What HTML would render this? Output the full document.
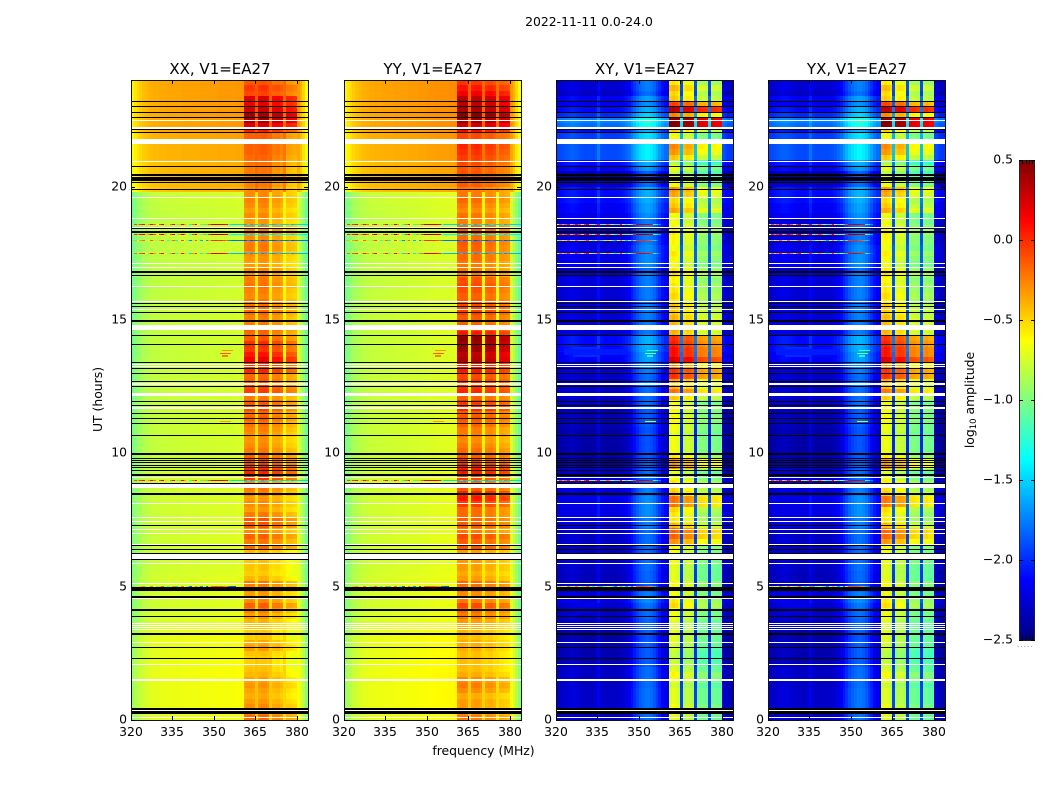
<!DOCTYPE html>
<html lang="en">
<head>
<meta charset="utf-8">
<title>2022-11-11 0.0-24.0</title>
<style>
html,body{margin:0;padding:0;background:#fff;width:1050px;height:800px;overflow:hidden}
svg{display:block}
text{font-family:"DejaVu Sans","Liberation Sans",sans-serif;fill:#000}
</style>
</head>
<body>
<svg id="chart" xmlns="http://www.w3.org/2000/svg" width="1050" height="800" viewBox="0 0 1050 800">
  <text x="589" y="26" font-size="12.4" text-anchor="middle">2022-11-11 0.0-24.0</text>
  <text x="483.5" y="755" font-size="12.4" text-anchor="middle">frequency (MHz)</text>
  <text x="102" y="399.5" font-size="12.4" text-anchor="middle" transform="rotate(-90 102 399.5)">UT (hours)</text>
  <text x="974" y="400" font-size="12.4" text-anchor="middle" transform="rotate(-90 974 400)">log<tspan font-size="8.5" dy="2">10</tspan><tspan dy="-2"> amplitude</tspan></text>
  <g id="panels"></g>
  <g id="colorbar"></g>
</svg>
<script>
// ---------- data ----------
const panelTitles = ['XX, V1=EA27', 'YY, V1=EA27', 'XY, V1=EA27', 'YX, V1=EA27'];
const xTicks = [320, 335, 350, 365, 380];
const yTicks = [0, 5, 10, 15, 20];
const colorTicks = [0.5, 0.0, -0.5, -1.0, -1.5, -2.0, -2.5];
const onBandChannels = [41,42,43,44,46,47,48,49,51,52,53,54,56,57,58,59];

// per-channel log10 amplitude (1 MHz channels from 320 MHz)
const xxProfile = [-1,-.95,-.91,-.87,-.84,-.82,-.8,-.79,-.78,-.78,-.77,-.77,-.77,-.76,-.76,-.76,-.76,-.76,-.75,-.75,-.75,-.75,-.75,-.75,-.75,-.74,-.74,-.74,-.74,-.74,-.74,-.73,-.73,-.73,-.73,-.73,-.73,-.73,-.72,-.72,-.72,-.05,-.03,-.03,-.05,-.52,-.03,-.01,-.01,-.04,-.54,-.12,-.1,-.1,-.14,-.58,-.22,-.22,-.24,-.26,-.72,-.8,-.9,-1.05];
const yyProfile = [-1,-.95,-.91,-.87,-.84,-.82,-.8,-.79,-.78,-.77,-.77,-.76,-.76,-.76,-.75,-.75,-.75,-.75,-.74,-.74,-.74,-.74,-.74,-.73,-.73,-.73,-.73,-.72,-.72,-.72,-.71,-.71,-.71,-.7,-.7,-.7,-.7,-.7,-.69,-.69,-.68,-.04,-.02,-.02,-.04,-.55,-.05,-.03,-.03,-.06,-.57,-.1,-.08,-.08,-.12,-.6,-.16,-.16,-.18,-.2,-.72,-.8,-.92,-1.05];
const xyProfile = [-2.42,-2.41,-2.4,-2.38,-2.36,-2.34,-2.34,-2.36,-2.38,-2.4,-2.41,-2.41,-2.41,-2.41,-2.39,-2.26,-2.39,-2.41,-2.41,-2.41,-2.41,-2.41,-2.4,-2.39,-2.37,-2.33,-2.28,-2.2,-2.12,-2.04,-1.97,-1.93,-1.9,-1.9,-1.93,-1.99,-2.07,-2.15,-2.24,-2.3,-2.3,-.78,-.74,-.78,-.84,-2.05,-.9,-.86,-.88,-.92,-2.05,-1.08,-1.08,-1.1,-1.12,-2.05,-1.1,-1.1,-1.12,-1.14,-2.38,-2.42,-2.46,-2.46];
const yxProfile = [-2.42,-2.41,-2.39,-2.37,-2.35,-2.34,-2.34,-2.35,-2.37,-2.39,-2.41,-2.41,-2.41,-2.41,-2.39,-2.28,-2.39,-2.41,-2.41,-2.41,-2.41,-2.41,-2.4,-2.39,-2.36,-2.31,-2.26,-2.18,-2.1,-2.02,-1.96,-1.92,-1.89,-1.89,-1.92,-1.98,-2.06,-2.14,-2.23,-2.3,-2.3,-.8,-.76,-.79,-.86,-2.05,-.92,-.88,-.9,-.94,-2.05,-1.1,-1.1,-1.12,-1.14,-2.05,-1.12,-1.1,-1.14,-1.16,-2.38,-2.42,-2.46,-2.46];

// per-row level (0.2 h rows from 0 UT)
const autoOff = [
 .06,.07,.08,.08,.08, .08,.08,.08,.09,.08, .08,.08,.07,.07,.08, .07,.06,.05,.03,.02,
 .02,.01,.01,.02,.02, .02,.02,.01,0,0, 0,0,.01,0,0, 0,0,0,0,0,
 0,0,0,0,-.01, -.01,-.01,-.01,-.02,-.02, -.02,-.02,-.02,-.02,-.02, -.02,-.02,-.02,-.02,-.02,
 -.03,-.03,-.03,-.03,-.03, -.03,-.03,-.03,-.03,-.03, -.03,-.03,-.03,-.03,-.03, -.03,-.03,-.03,-.03,-.03,
 -.04,-.04,-.04,-.04,-.04, -.04,-.04,-.04,-.04,-.04, -.04,-.04,-.04,-.04,-.04, -.03,-.03,-.02,-.02,.32,
 .34,.34,.34,.34,.34, .36,.36,.36,.38,.38, .4,.4,.4,.4,.4, .4,.4,.4,.4,.4];
const xxOn = [
 -.15,-.2,-.25,-.3,-.35, -.32,-.28,-.32,-.38,-.42, -.45,-.45,-.42,-.3,-.35, -.45,-.45,-.42,-.38,-.3,
 -.22,-.12,-.25,-.3,-.25, -.2,-.38,-.45,-.42,-.42, -.42,-.38,-.15,-.2,-.12, -.25,-.1,-.08,-.2,-.3,
 -.25,-.3,-.22,-.2,-.25, 0,.05,.02,-.05,-.12, -.2,-.25,-.28,-.25,-.22, -.18,-.12,-.15,-.05,-.1,
 -.2,-.02,-.05,-.12,-.15, .05,0,.2,.1,0, .02,-.1,-.15,-.12,-.2, -.22,-.15,-.18,-.2,-.25,
 -.22,-.18,-.2,-.25,-.25, -.3,-.28,-.25,-.2,-.22, -.25,-.2,-.25,-.3,-.25, -.3,-.25,-.22,-.25,-.25,
 -.22,-.2,-.2,-.2,-.18, -.15,-.12,-.12,-.15,-.12, .08,.25,.42,.42,.3, .22,.25,-.05,0,-.1];
const yyOn = [
 -.2,-.25,-.3,-.3,-.35, -.25,-.2,-.25,-.35,-.4, -.4,-.4,-.4,-.35,-.35, -.4,-.38,-.35,-.3,-.2,
 -.15,-.05,-.2,-.25,-.2, -.15,-.3,-.35,-.3,-.3, -.25,-.3,-.08,-.12,-.05, -.2,-.1,-.12,-.15,-.15,
 -.02,.1,.05,-.1,-.15, -.05,.1,.1,0,-.1, -.15,-.2,-.25,-.2,-.2, -.12,-.08,-.1,.05,0,
 -.12,.05,.02,0,-.05, .1,.1,.4,.35,.45, .45,.5,.1,-.05,-.12, -.1,-.02,-.05,-.1,-.12,
 -.08,-.05,-.08,-.2,-.2, -.2,-.15,-.15,-.12,-.1, -.15,-.1,-.18,-.22,-.18, -.25,-.2,-.15,-.2,-.2,
 -.1,-.08,-.08,-.1,-.05, -.02,.02,.05,-.05,-.05, .15,.3,.45,.5,.4, .35,.35,.2,.1,0];
const crossOff = [
 .1,.1,.12,.12,.12, .12,.1,.1,.1,.1, .05,.05,.05,.05,.05, .02,.05,.08,.08,.1,
 .1,.12,.2,.15,.1, .05,.08,.08,.1,.1, .1,.1,.1,.1,.1, .1,.15,.15,.2,.2,
 .2,.2,.15,.15,.12, .1,.1,.05,.05,.05, .02,.02,.02,.02,.02, .05,.05,.05,.05,.1,
 .1,.1,.1,.1,.1, .15,.2,.25,.25,.3, .3,.3,.15,.15,.15, .15,.15,.15,.1,.15,
 .15,.15,.15,.15,.1, .2,.2,.2,.2,.15, .15,.15,.15,.15,.2, .25,.25,.3,.3,.3,
 .1,.05,.05,.25,.3, .5,.5,.5,.5,.45, .3,.6,.65,.4,.3, .2,.25,.1,.15,.15];
const crossOn = [
 .05,.1,.1,.05,.05, .05,0,.1,.15,.05, 0,-.05,-.05,0,.05, .05,.05,.05,.05,.1,
 .1,.25,.2,.1,.1, .15,.05,.05,.05,.1, .05,.1,.15,.45,.6, .6,.35,.2,.2,.25,
 .55,.55,.3,.25,.2, .1,.05,.5,.45,.2, .1,.1,.1,.05,.1, .1,.15,.1,.15,.1,
 .3,.55,.35,.4,.75, .75,.5,1,.85,.85, .8,.75,.35,.4,.35, .35,.3,.3,.2,.25,
 .2,.2,.15,.25,.2, .1,.15,.2,.1,.15, .15,.2,.15,.1,.1, .4,.3,.25,.4,.45,
 .1,.05,-.05,.1,-.1, .3,.45,.5,.45,.1, .3,1.3,1.3,.5,1.1, .7,.3,.25,.35,.2];

// flagged integrations (UT hours)
const zeroLineHours = [23.2,23.01,22.79,22.6,22.14,22.04,20.76,20.15,19.89,18.44,18.3,16.8,16.68,15.61,15.51,15.29,14.41,14.09,13.41,13.19,13.01,12.7,12.51,11.96,11.78,11.5,11.31,11.13,10.68,9.81,9.72,9.64,9.56,9.46,9.36,8.88,7.31,6.53,6.39,6.26,6.01,4.86,3.89,2.73,2.31,.3,.23];
const zeroBandHours = [[20.4,20.49],[20.22,20.35],[14.94,14.99],[9.92,10.03],[9.15,9.24],[8.44,8.53],[4.89,4.99],[4.57,4.65],[4.09,4.17],[3.19,3.26],[.39,.46]];
const blankLineHours = [22.49,22.2,20.93,19.61,18.81,18.46,17.12,16.98,16.25,15.7,15.38,14.63,13.32,13.24,12.6,11.7,9.1,8.12,7.59,7.44,7.16,7,6.59,5.88,5.11,4.55,3.63,3.54,3.46,3.38,2.91,2.09,1.5,.37,.1];
const blankBandHours = [[21.61,21.79],[12.15,12.25],[14.65,14.81],[8.7,8.85],[6.03,6.24]];

// RFI-affected integrations
const rfiHours = [18.6,18.2,18,17.5,9,5];
const rfiRowOffsets = [0,.1,-.3,-.1,0,-.4];
const rfiLastChannels = [63,63,63,63,63,37];
const rfiAuto = [-.9,-.1,-.4,-.05,.1,-.5,-.3,.15,-.2,-.7,-.1,.2,-.5,-.9,-.2,.1,-1.1,-.4,.2,-.3,-.8,-1.4,-.2,.15,-.6,-1.3,-.4,-1.4,-.1,.25,.3,.25,.3,.2,.1,-1.4,-1.5,-1.5,-1.5,-1.5,-1.5,-1.6,-1.4,-1.6,-1.5,-1.5,-1.4,-1.6,-1.5,-1.4,-1.5,-1.6,-1.5,-1.4,-1.5,-1.5,-1.5,-1.4,-1.6,-1.5,-1.5,-1.5,-1.5,-1.5];
const rfiCross = [-.7,-.1,-.4,-.2,.1,-.5,-.3,.1,-.2,-.6,-.1,.2,-.5,-.9,-.3,.1,-1.1,-.5,-.2,-.4,-.8,-1.3,-.4,.05,-.6,-1.2,-.6,-1.3,-.1,.25,.3,.3,.25,.2,.1,-1.2,-1.4,-1.7,null,null,null,null,null,null,null,null,null,null,null,null,null,null,null,null,null,null,null,null,null,null,null,null,null,null];
const streakHours = [13.85,13.75,13.65,13.4,11.2];
const streakStartChannels = [33,32,33,31,32];
const streakEndChannels = [37,36,35,35,36];
const streakAuto = [-.3,-.15,-.25,-.45,-.35];
const streakCross = [-1.2,-1.05,-1.3,-1.1,-.9];

// broad low-frequency brightenings seen in the cross-hands
const patchStartHours = [13.6,13.7,7.4,4.0];
const patchEndHours = [14.0,13.9,8.4,4.4];
const patchStartChannels = [6,3,3,6];
const patchEndChannels = [15,26,12,14];
const patchValues = [-2,-2.05,-2.2,-2.2];

// ---------- scales ----------
const SVG_NS = 'http://www.w3.org/2000/svg';
const panelLefts = [131, 344, 556, 768];
const panelWidth = 177, plotTop = 80, plotBottom = 720;
const freqMin = 320, freqMax = 384, hourMin = 0, hourMax = 24;
const rowHours = 0.2, channelWidth = 1;
const colorMin = -2.5, colorMax = 0.5;
const cbLeft = 1019, cbRight = 1035, cbTop = 160, cbBottom = 640;

function xScale(i, f) { return panelLefts[i] + (f - freqMin) / (freqMax - freqMin) * panelWidth; }
function yScale(h) { return plotBottom - (h - hourMin) / (hourMax - hourMin) * (plotBottom - plotTop); }
function cbScale(v) { return cbBottom - (v - colorMin) / (colorMax - colorMin) * (cbBottom - cbTop); }
function clamp01(a) { return Math.max(0, Math.min(1, a)); }
function jet(v) {
  const t = clamp01((v - colorMin) / (colorMax - colorMin));
  const r = clamp01(Math.min(4 * t - 1.5, -4 * t + 4.5));
  const g = clamp01(Math.min(4 * t - 0.5, -4 * t + 3.5));
  const b = clamp01(Math.min(4 * t + 0.5, -4 * t + 2.5));
  return 'rgb(' + Math.round(r * 255) + ',' + Math.round(g * 255) + ',' + Math.round(b * 255) + ')';
}
function shape(parent, tag, props) {
  const el = document.createElementNS(SVG_NS, tag);
  for (const k in props) el.setAttribute(k, props[k]);
  parent.appendChild(el);
  return el;
}
function band(parent, i, f0, f1, h0, h1, fill) {
  const x0 = Math.round(xScale(i, f0)), x1 = Math.round(xScale(i, f1));
  const y0 = Math.round(yScale(h1)), y1 = Math.round(yScale(h0));
  return shape(parent, 'rect', {x: x0, y: y0, width: Math.max(1, x1 - x0), height: Math.max(1, y1 - y0), fill: fill, 'shape-rendering': 'crispEdges'});
}

const panelSeries = [
  {profile: xxProfile, on: xxOn, off: autoOff, rfi: rfiAuto, streak: streakAuto, cross: false, key: 'xx'},
  {profile: yyProfile, on: yyOn, off: autoOff, rfi: rfiAuto, streak: streakAuto, cross: false, key: 'yy'},
  {profile: xyProfile, on: crossOn, off: crossOff, rfi: rfiCross, streak: streakCross, cross: true, key: 'xy'},
  {profile: yxProfile, on: crossOn, off: crossOff, rfi: rfiCross, streak: streakCross, cross: true, key: 'yx'}
];

const panelsRoot = document.getElementById('panels');
panelSeries.forEach(function (s, i) {
  const g = shape(panelsRoot, 'g', {});
  
  

  // heatmap cells
  const rowCount = s.on.length;
  for (let row = 0; row < rowCount; row++) {
    for (let ch = 0; ch < s.profile.length; ch++) {
      const isOn = onBandChannels.indexOf(ch) >= 0;
      const v = s.profile[ch] + (isOn ? s.on[row] : s.off[row]);
      const f = freqMin + ch * channelWidth;
      const cell = band(g, i, f, f + channelWidth, row * rowHours, (row + 1) * rowHours, jet(v));
      
      
    }
  }

  // broad patches in cross-hand panels
  if (s.cross) {
    patchValues.forEach(function (v, k) {
      const f0 = freqMin + patchStartChannels[k] * channelWidth;
      const f1 = freqMin + patchEndChannels[k] * channelWidth;
      const p = band(g, i, f0, f1, patchStartHours[k], patchEndHours[k], jet(v));
      
      
    });
  }

  // RFI rows
  rfiHours.forEach(function (h, r) {
    s.rfi.forEach(function (v, ch) {
      if (v === null || ch > rfiLastChannels[r]) return;
      const f = freqMin + ch * channelWidth;
      const cell = band(g, i, f, f + channelWidth, h - 0.015, h + 0.015, jet(v + rfiRowOffsets[r]));
      
      
    });
  });

  // narrow streaks
  streakHours.forEach(function (h, k) {
    const f0 = freqMin + streakStartChannels[k] * channelWidth;
    const f1 = freqMin + streakEndChannels[k] * channelWidth;
    const st = band(g, i, f0, f1, h - 0.02, h + 0.02, jet(s.streak[k]));
    
    
  });

  // flagged data: blank rows then zero rows
  blankLineHours.forEach(function (h) {
    const el = band(g, i, freqMin, freqMax, h - 0.02, h + 0.02, '#fff');
    
    
  });
  blankBandHours.forEach(function (b) {
    const el = band(g, i, freqMin, freqMax, b[0], b[1], '#fff');
    
    
  });
  zeroLineHours.forEach(function (h) {
    const el = band(g, i, freqMin, freqMax, h - 0.02, h + 0.02, '#000');
    
    
  });
  zeroBandHours.forEach(function (b) {
    const el = band(g, i, freqMin, freqMax, b[0], b[1], '#000');
    
    
  });

  // frame
  const left = panelLefts[i];
  const frame = shape(g, 'rect', {x: left + 0.5, y: plotTop + 0.5, width: panelWidth, height: plotBottom - plotTop, fill: 'none', stroke: '#111', 'stroke-width': 1});
  
  

  // x ticks
  xTicks.forEach(function (t) {
    const x = Math.round(xScale(i, t)) + 0.5;
    const tb = shape(g, 'line', {x1: x, x2: x, y1: plotBottom, y2: plotBottom - 4, stroke: '#000'});
    
    
    const tt = shape(g, 'line', {x1: x, x2: x, y1: plotTop, y2: plotTop + 4, stroke: '#000'});
    
    
    const lab = shape(g, 'text', {x: x - 0.5, y: plotBottom + 16, 'font-size': 12.4, 'text-anchor': 'middle'});
    
    
    lab.textContent = String(t);
  });

  // y ticks
  yTicks.forEach(function (t) {
    const y = Math.round(yScale(t)) + 0.5;
    const tl = shape(g, 'line', {x1: left, x2: left + 4, y1: y, y2: y, stroke: '#000'});
    
    
    const tr = shape(g, 'line', {x1: left + panelWidth, x2: left + panelWidth - 4, y1: y, y2: y, stroke: '#000'});
    
    
    const lab = shape(g, 'text', {x: left - 4, y: y + 3, 'font-size': 12.4, 'text-anchor': 'end'});
    
    
    lab.textContent = String(t);
  });

  // title
  const title = shape(g, 'text', {x: left + panelWidth / 2 + 0.5, y: 74, 'font-size': 15, 'text-anchor': 'middle'});
  
  
  title.textContent = panelTitles[i];
});

// ---------- colorbar ----------
const cb = document.getElementById('colorbar');
for (let y = cbTop; y < cbBottom; y += 2) {
  const v = colorMax - (y + 1 - cbTop) / (cbBottom - cbTop) * (colorMax - colorMin);
  const seg = shape(cb, 'rect', {x: cbLeft, y: y, width: cbRight - cbLeft, height: 2, fill: jet(v), 'shape-rendering': 'crispEdges'});
  
  
}
const cbFrame = shape(cb, 'rect', {x: cbLeft + 0.5, y: cbTop + 0.5, width: cbRight - cbLeft - 1, height: cbBottom - cbTop, fill: 'none', stroke: '#222'});


colorTicks.forEach(function (t) {
  const y = Math.round(cbScale(t)) + 0.5;
  const a = shape(cb, 'line', {x1: cbLeft, x2: cbLeft + 4, y1: y, y2: y, stroke: '#000'});
  
  
  const b = shape(cb, 'line', {x1: cbRight - 4, x2: cbRight, y1: y, y2: y, stroke: '#000'});
  
  
  const lab = shape(cb, 'text', {x: 1013, y: y + 3, 'font-size': 12.4, 'text-anchor': 'end'});
  
  
  lab.textContent = t.toFixed(1).replace('-', '\u2212');
});
[1022.5, 1026.5, 1029.5, 1032.5].forEach(function (x) {
  const t1 = shape(cb, 'line', {x1: x, x2: x, y1: cbTop, y2: cbTop + 4, stroke: '#000'});
  
  
  const t2 = shape(cb, 'line', {x1: x, x2: x, y1: cbBottom, y2: cbBottom - 4, stroke: '#000'});
  
  
});
const dots = shape(cb, 'line', {x1: 1017.5, x2: 1034.5, y1: 646.5, y2: 646.5, stroke: '#999', 'stroke-dasharray': '1 2.4'});


</script>
</body>
</html>
